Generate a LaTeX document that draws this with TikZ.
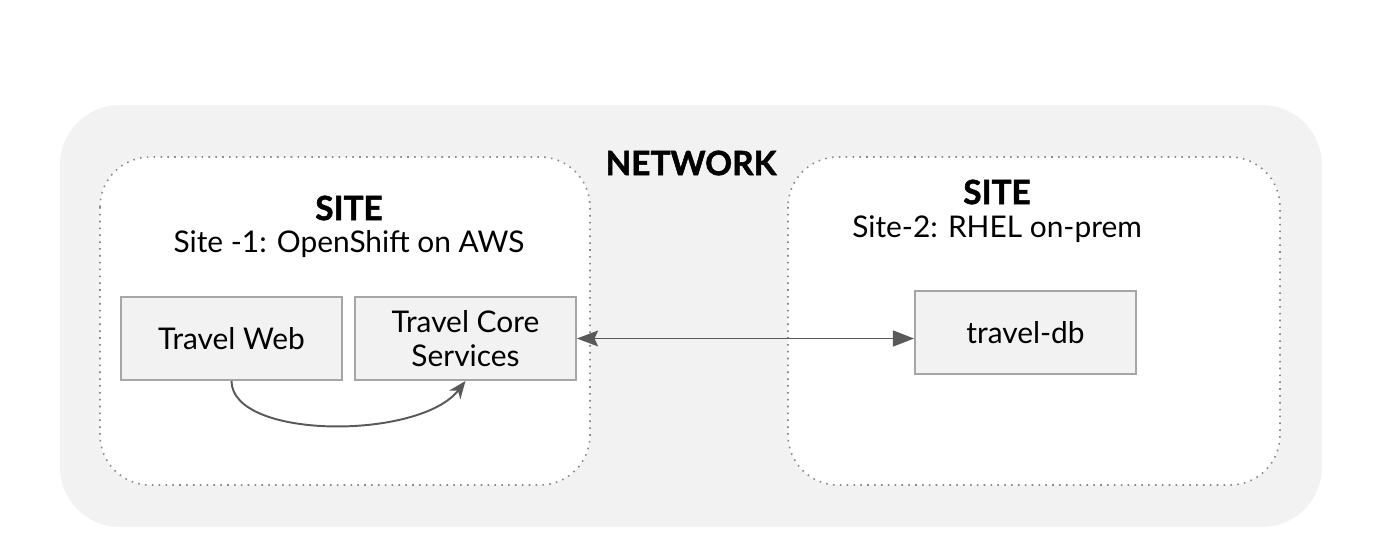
\documentclass[tikz,border=0pt]{standalone}
\usepackage{fontspec}
\setmainfont{Lato}
\usetikzlibrary{arrows.meta}

\definecolor{netgray}{HTML}{F2F2F2}
\definecolor{boxline}{HTML}{A6A6A6}
\definecolor{dotline}{HTML}{8A8A8A}
\definecolor{arrowgray}{HTML}{595959}

\tikzset{
  svcbox/.style={draw=boxline, line width=1.1pt, fill=netgray, minimum width=221*0.02cm, minimum height=83*0.02cm, inner sep=0pt, align=center, font=\fontsize{17}{19}\selectfont, text=black},
  sitebox/.style={draw=dotline, line width=0.9pt, dash pattern=on 0.9pt off 3pt, fill=white, rounded corners=1.0cm},
  titlefont/.style={font=\fontsize{19}{22}\selectfont\bfseries\addfontfeature{FakeBold=1.5}},
  labelfont/.style={font=\fontsize{17}{20}\selectfont},
  link/.style={draw=arrowgray, line width=1.1pt}
}

\begin{document}
\begin{tikzpicture}[x=0.02cm,y=-0.02cm]
  \useasboundingbox (0,0) rectangle (1384,552);
  % network
  \fill[netgray, rounded corners=1.2cm] (60,105) rectangle (1322,527);
  \node[titlefont] (net) at (691,163) {NETWORK};
  % site 1
  \draw[sitebox] (100,157) rectangle (590,485);
  \node[titlefont] (site1) at (349,208) {SITE};
  \node[labelfont] (site1name) at (349,244) {Site -1: OpenShift on AWS};
  \node[svcbox] (web) at (231.5,338.5) {Travel Web};
  \node[svcbox] (core) at (465.5,338.5) {Travel Core\\Services};
  % site 2
  \draw[sitebox] (788,157) rectangle (1280,485);
  \node[titlefont] (site2) at (997,192) {SITE};
  \node[labelfont] (site2name) at (997,229) {Site-2: RHEL on-prem};
  \node[svcbox] (db) at (1025.5,332.5) {travel-db};
  % links
  \draw[link, {Stealth[length=12pt,width=9pt,inset=2pt]}-{Triangle[length=12pt,width=9pt]}] (core.east) -- (db.west |- core.east);
  \draw[link, -{Stealth[length=10pt,width=8pt,inset=3pt]}] (web.south) .. controls (232,440) and (420,440) .. (core.south);
\end{tikzpicture}
\end{document}
